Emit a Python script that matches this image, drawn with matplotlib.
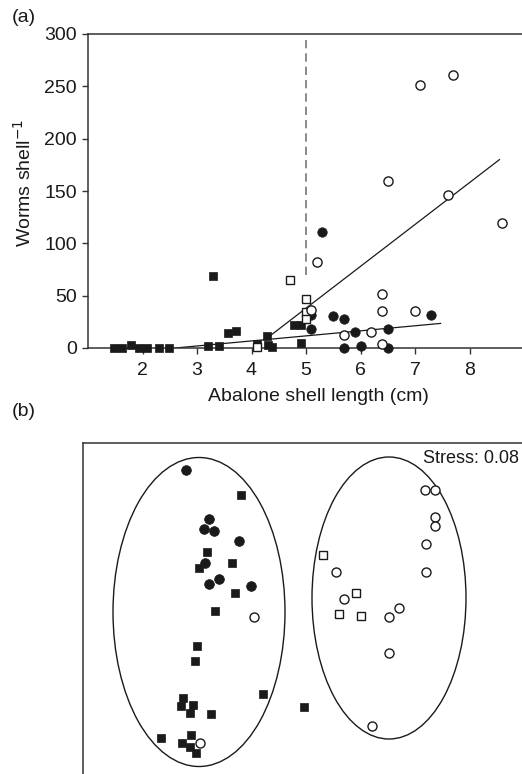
import matplotlib
matplotlib.use("Agg")
import matplotlib.pyplot as plt
from matplotlib.patches import Ellipse

plt.rcParams['font.family'] = ['Liberation Sans', 'DejaVu Sans']

# ---------- Panel (a) data: abalone shell length (cm) vs worms per shell ----------
filled_sq_x = [1.47, 1.63, 1.79, 1.93, 2.09, 2.30, 2.49, 3.2, 3.3, 3.4, 3.57, 3.71, 4.1, 4.29, 4.3, 4.38, 4.78, 4.9, 4.9]
filled_sq_y = [0, 0, 3, 0, 0, 0, 0, 2, 69, 2, 14, 16, 4, 11, 3, 1, 22, 22, 5]
open_sq_x = [4.1, 4.7, 5.0, 5.0, 5.0]
open_sq_y = [1, 65, 47, 34, 28]
filled_ci_x = [5.29, 5.1, 5.1, 5.49, 5.7, 5.7, 5.9, 6.0, 6.5, 6.5, 7.3]
filled_ci_y = [111, 32, 18, 31, 28, 0, 15, 2, 18, 0, 32]
open_ci_x = [7.1, 7.7, 6.5, 7.6, 8.6, 5.2, 6.4, 6.4, 7.0, 5.1, 5.7, 6.2, 6.4]
open_ci_y = [251, 261, 160, 146, 119, 82, 52, 35, 35, 36, 12, 15, 4]
fit1_x = [4.35, 8.55]
fit1_y = [12, 180]
fit2_x = [2.6, 7.47]
fit2_y = [0, 23.5]
threshold_x = 5.0
threshold_y = [70, 295]
xticks_a = [2, 3, 4, 5, 6, 7, 8]
yticks_a = [0, 50, 100, 150, 200, 250, 300]

# ---------- Panel (b) data: NMDS ordination coordinates ----------
b_fci_x = [-1.14, -0.91, -0.957, -0.857, -0.613, -0.947, -0.807, -0.913, -0.493]
b_fci_y = [1.297, 0.807, 0.707, 0.693, 0.587, 0.37, 0.207, 0.16, 0.14]
b_fsq_x = [-0.59, -0.933, -1.013, -0.68, -0.653, -0.85, -1.033, -1.047, -1.167, -1.193,
           -1.073, -1.10, -0.893, -0.373, -1.393, -1.087, -1.18, -1.10, -1.04, 0.043]
b_fsq_y = [1.05, 0.48, 0.323, 0.37, 0.067, -0.113, -0.46, -0.613, -0.977, -1.06,
           -1.047, -1.133, -1.14, -0.94, -1.38, -1.353, -1.427, -1.467, -1.533, -1.073]
b_oci_x = [-0.46, -1.003, 1.253, 1.347, 1.347, 1.347, 1.257, 1.257, 0.357, 0.443,
           0.987, 0.893, 0.893, 0.717]
b_oci_y = [-0.17, -1.433, 1.10, 1.10, 0.833, 0.74, 0.557, 0.283, 0.283, 0.01,
           -0.08, -0.17, -0.533, -1.26]
b_osq_x = [0.233, 0.56, 0.393, 0.61]
b_osq_y = [0.447, 0.07, -0.137, -0.16]
stress_text = "Stress: 0.08"

W, H = 522, 774
fig = plt.figure(figsize=(W / 100, H / 100), dpi=100)

ink = '#1a1a1a'
spine_c = '#333333'
FS = 14

# ---------------- Panel (a) ----------------
ax_l, ax_r, ax_t, ax_b = 88, 524, 34, 348
axa = fig.add_axes([ax_l / W, 1 - ax_b / H, (ax_r - ax_l) / W, (ax_b - ax_t) / H])
axa.set_xlim(1, 9)
axa.set_ylim(0, 300)
axa.plot([threshold_x, threshold_x], threshold_y, ls=(0, (5, 3)), color='#777777', lw=1.2, zorder=1)
axa.plot(fit1_x, fit1_y, color=ink, lw=0.9, zorder=2)
axa.plot(fit2_x, fit2_y, color=ink, lw=0.9, zorder=2)
axa.plot(filled_sq_x, filled_sq_y, 's', ms=6.3, mfc=ink, mec=ink, mew=0.5, ls='none', clip_on=False, zorder=3)
axa.plot(open_sq_x, open_sq_y, 's', ms=6.0, mfc='white', mec=ink, mew=1.0, ls='none', clip_on=False, zorder=4)
axa.plot(filled_ci_x, filled_ci_y, 'o', ms=6.8, mfc=ink, mec=ink, mew=0.5, ls='none', clip_on=False, zorder=3)
axa.plot(open_ci_x, open_ci_y, 'o', ms=6.6, mfc='white', mec=ink, mew=1.0, ls='none', clip_on=False, zorder=4)
axa.set_xticks(xticks_a)
axa.set_yticks(yticks_a)
axa.tick_params(direction='out', length=4.3, width=1, labelsize=FS, colors=spine_c, labelcolor=ink)
axa.tick_params(axis='x', pad=6.0)
axa.tick_params(axis='y', pad=3.6)
for s in axa.spines.values():
    s.set_color(spine_c)
    s.set_linewidth(1.1)
axa.spines['right'].set_visible(False)
axa.set_xlabel('Abalone shell length (cm)', fontsize=FS, color=ink)
axa.set_ylabel('Worms shell$^{-1}$', fontsize=FS, color=ink)
axa.xaxis.set_label_coords((318.5 - ax_l) / (ax_r - ax_l), (ax_b - 388) / (ax_b - ax_t))
axa.yaxis.set_label_coords((35 - ax_l) / (ax_r - ax_l), (ax_b - 183) / (ax_b - ax_t))
fig.text(12 / W, 1 - 18 / H, '(a)', fontsize=FS, color=ink, ha='left', va='center')

# ---------------- Panel (b) ----------------
x0p, x1p, y0p, y1p = 83.3, 530, 443.3, 782
axb = fig.add_axes([x0p / W, 1 - y1p / H, (x1p - x0p) / W, (y1p - y0p) / H])
axb.set_xlim((x0p - 300) / 100, (x1p - 300) / 100)
axb.set_ylim((600 - y1p) / 100, (600 - y0p) / 100)
axb.add_patch(Ellipse((-1.01, -0.12), 1.72, 3.09, fill=False, ec=ink, lw=1.0))
axb.add_patch(Ellipse((0.89, 0.02), 1.54, 2.82, fill=False, ec=ink, lw=1.0))
axb.plot(b_fsq_x, b_fsq_y, 's', ms=6.0, mfc=ink, mec=ink, mew=0.5, ls='none', zorder=3)
axb.plot(b_fci_x, b_fci_y, 'o', ms=7.0, mfc=ink, mec=ink, mew=0.5, ls='none', zorder=3)
axb.plot(b_oci_x, b_oci_y, 'o', ms=6.5, mfc='white', mec=ink, mew=1.0, ls='none', zorder=4)
axb.plot(b_osq_x, b_osq_y, 's', ms=5.5, mfc='white', mec=ink, mew=1.0, ls='none', zorder=4)
axb.set_xticks([])
axb.set_yticks([])
for s in axb.spines.values():
    s.set_color(spine_c)
    s.set_linewidth(1.1)
axb.text(519 / W, 1 - 458.5 / H, stress_text, transform=fig.transFigure, fontsize=13,
         color=ink, ha='right', va='center')
fig.text(12 / W, 1 - 412 / H, '(b)', fontsize=FS, color=ink, ha='left', va='center')

fig.savefig('out.png', dpi=100)
